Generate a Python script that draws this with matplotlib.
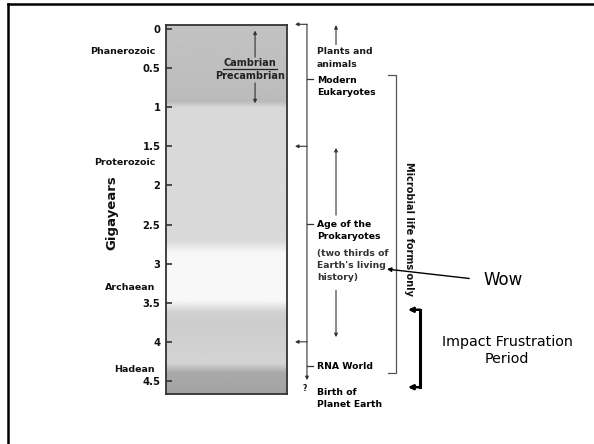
import matplotlib
matplotlib.use("Agg")
import matplotlib.pyplot as plt
import numpy as np
from matplotlib.lines import Line2D

# ========== data ==========
tick_vals = [0, 0.5, 1, 1.5, 2, 2.5, 3, 3.5, 4, 4.5]
tick_labels = ["0", "0.5", "1", "1.5", "2", "2.5", "3", "3.5", "4", "4.5"]

eras = ["Phanerozoic", "Proterozoic", "Archaean", "Hadean"]
era_label_y = [0.29, 1.71, 3.31, 4.35]

boundaries = [-0.06, 1.5, 4.0]          # left-pointing arrows on the bracket
event_marks = [0.64, 2.49, 4.31]        # small ticks next to event labels

event_texts = ["Plants and\nanimals", "Modern\nEukaryotes",
               "Age of the\nProkaryotes", "(two thirds of\nEarth's living\nhistory)",
               "RNA World", "Birth of\nPlanet Earth"]
event_y = [0.37, 0.73, 2.577, 3.025, 4.31, 4.72]
event_bold = ["bold", "heavy", "heavy", "bold", "heavy", "heavy"]
event_color = ["#1a1a1a", "#000000", "#000000", "#333333", "#000000", "#000000"]

# gradient of the column (age, gray level)
shade_age = [-0.06, 0.80, 0.92, 1.00, 2.70, 2.86, 3.48, 3.62, 3.75, 4.28, 4.40, 4.67]
shade_gray = [0.76, 0.74, 0.73, 0.85, 0.85, 0.97, 0.97, 0.82, 0.80, 0.83, 0.66, 0.64]

microbial = (0.59, 4.40)     # bracket for microbial life
impact = (3.59, 4.58)        # impact frustration period
wow_tip = 3.07
wow_tail = 3.21

y_top, y_bot = -0.051, 4.667

# ========== figure ==========
plt.rcParams['font.family'] = ['DejaVu Sans']
fig = plt.figure(figsize=(5.94, 4.44), dpi=100)
ax = fig.add_axes([166 / 594, 1 - 394 / 444, 121 / 594, 369 / 444])

grid = np.linspace(y_top, y_bot, 400)
col = np.interp(grid, shade_age, shade_gray)
img = np.repeat(col[:, None], 2, axis=1)
ax.imshow(img, cmap="gray", vmin=0, vmax=1, aspect="auto",
          extent=[0, 1, y_bot, y_top], interpolation="bilinear")
ax.set_xlim(0, 1)
ax.set_ylim(y_bot, y_top)
ax.set_xticks([])
ax.set_yticks(tick_vals)
ax.set_yticklabels(tick_labels)
ax.tick_params(axis="y", direction="in", length=4, width=1.2, color="#333333",
               pad=4, labelsize=7.2)
for lab in ax.get_yticklabels():
    lab.set_fontweight("heavy")
    lab.set_color("#111111")
for s in ax.spines.values():
    s.set_color("#333333")
    s.set_linewidth(1.3)

tr = ax.get_yaxis_transform()
dark = "#333333"
small_arrow = dict(arrowstyle="-|>", lw=0.8, color=dark, mutation_scale=5,
                   shrinkA=0, shrinkB=0)

# era labels and axis title
for name, y in zip(eras, era_label_y):
    ax.text(-0.09, y, name, transform=tr, ha="right", va="center",
            fontsize=6.8, fontweight="heavy", color="#111111")
ax.text(-0.45, 2.35, "Gigayears", transform=tr, rotation=90, ha="center",
        va="center", fontsize=9.5, fontweight="heavy", color="#111111")

# Cambrian / Precambrian
ax.text(0.694, 0.44, "Cambrian", transform=tr, ha="center", va="center",
        fontsize=7, fontweight="bold", color="#222222")
ax.text(0.694, 0.60, "Precambrian", transform=tr, ha="center", va="center",
        fontsize=7, fontweight="bold", color="#222222")
ax.plot([0.47, 0.92], [0.515, 0.515], transform=tr, color="#222222", lw=0.9)
ax.annotate("", xy=(0.736, 0.02), xytext=(0.736, 0.36), xycoords=tr,
            textcoords=tr, arrowprops=small_arrow)
ax.annotate("", xy=(0.736, 0.95), xytext=(0.736, 0.69), xycoords=tr,
            textcoords=tr, arrowprops=small_arrow)

# left bracket with boundary arrows
ax.annotate("", xy=(1.165, 4.49), xytext=(1.165, boundaries[0]), xycoords=tr,
            textcoords=tr, arrowprops=small_arrow, annotation_clip=False)
for b in boundaries:
    ax.annotate("", xy=(1.066, b), xytext=(1.165, b), xycoords=tr,
                textcoords=tr, arrowprops=small_arrow, annotation_clip=False)
for m in event_marks:
    ax.plot([1.165, 1.215], [m, m], transform=tr, color=dark, lw=0.9,
            clip_on=False)
ax.text(1.15, 4.60, "?", transform=tr, ha="center", va="center", fontsize=5.5,
        fontweight="bold", color="#111111")

# event labels
for t, y, w, c in zip(event_texts, event_y, event_bold, event_color):
    ax.text(1.248, y, t, transform=tr, ha="left", va="center", fontsize=6.7,
            fontweight=w, color=c, linespacing=1.45)

# inner arrows
ax.annotate("", xy=(1.405, -0.05), xytext=(1.405, 0.2), xycoords=tr,
            textcoords=tr, arrowprops=small_arrow, annotation_clip=False)
ax.annotate("", xy=(1.405, 1.52), xytext=(1.405, 2.38), xycoords=tr,
            textcoords=tr, arrowprops=small_arrow, annotation_clip=False)
ax.annotate("", xy=(1.405, 3.94), xytext=(1.405, 3.34), xycoords=tr,
            textcoords=tr, arrowprops=small_arrow, annotation_clip=False)

# microbial bracket
ax.plot([1.835, 1.901, 1.901, 1.835], [microbial[0], microbial[0], microbial[1], microbial[1]],
        transform=tr, color="#555555", lw=0.9, clip_on=False)
ax.text(2.008, 2.56, "Microbial life forms only", transform=tr, rotation=-90,
        ha="center", va="center", fontsize=7, fontweight="heavy", color="#111111")

# Wow annotation
ax.annotate("Wow", xy=(1.826, wow_tip), xytext=(2.62, wow_tail), xycoords=tr,
            textcoords=tr, ha="left", va="center", fontsize=12, color="black",
            arrowprops=dict(arrowstyle="-|>", lw=1.0, color="black",
                            mutation_scale=6, shrinkA=8, shrinkB=0,
                            relpos=(0, 0.5)),
            annotation_clip=False)

# impact frustration bracket
ax.plot([2.099, 2.099], [impact[0], impact[1]], transform=tr, color="black",
        lw=2.2, clip_on=False, solid_capstyle="projecting")
big_arrow = dict(arrowstyle="-|>", lw=1.8, color="black", mutation_scale=7,
                 shrinkA=0, shrinkB=0)
for y in impact:
    ax.annotate("", xy=(2.0, y), xytext=(2.099, y), xycoords=tr, textcoords=tr,
                arrowprops=big_arrow, annotation_clip=False)
ax.text(2.818, 4.11, "Impact Frustration\nPeriod", transform=tr, ha="center",
        va="center", fontsize=10.3, fontweight="normal", color="black",
        linespacing=1.3)

# slide frame (top and left edges)
fig.add_artist(Line2D([8 / 594, 1], [1 - 4.5 / 444, 1 - 4.5 / 444], color="black", lw=1.8))
fig.add_artist(Line2D([8 / 594, 8 / 594], [0, 1 - 4.5 / 444], color="black", lw=1.8))

fig.savefig("out.png", dpi=100)
